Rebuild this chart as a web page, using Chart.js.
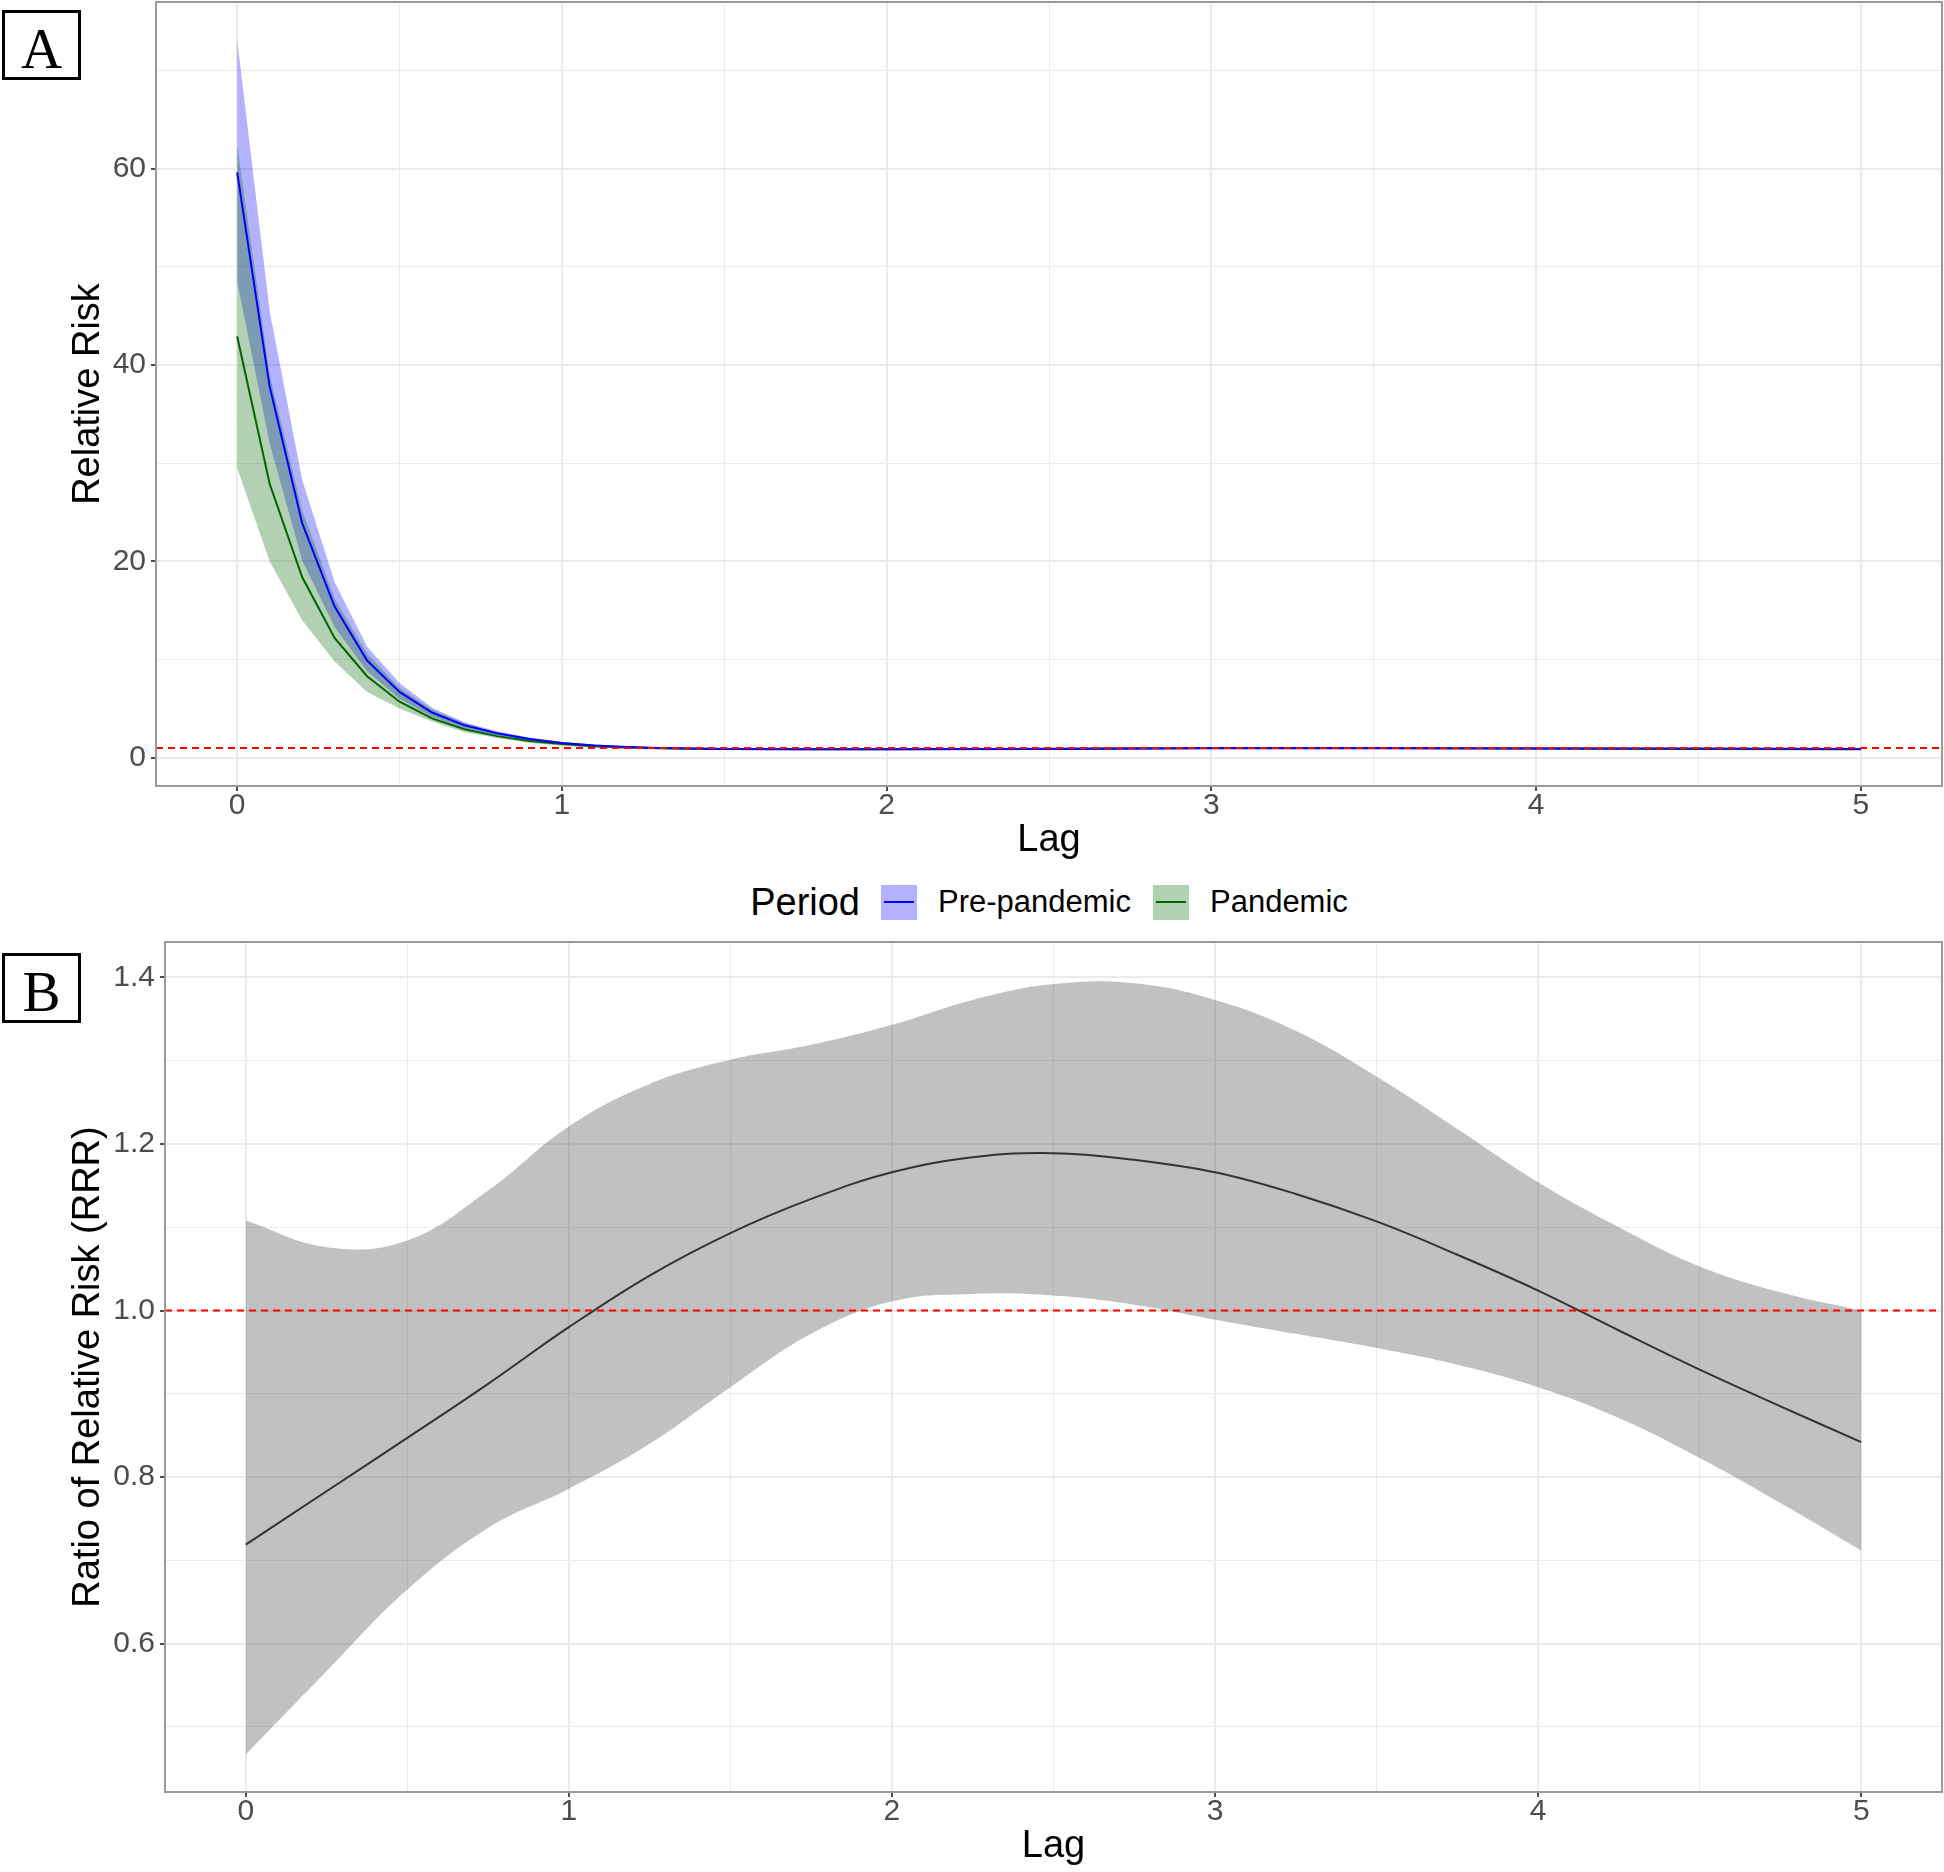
<!DOCTYPE html>
<html>
<head>
<meta charset="utf-8">
<script src="https://cdn.jsdelivr.net/npm/chart.js@4.4.1/dist/chart.umd.min.js"></script>
<style>
html,body{margin:0;padding:0;background:#fff;}
body{position:relative;width:1944px;height:1872px;overflow:hidden;font-family:"Liberation Sans",Arial,sans-serif;}
canvas{position:absolute;left:0;}
#cA{top:0;}
#cB{top:930px;}
.tag{position:absolute;left:2px;width:73px;height:64px;border:3px solid #000;background:#fff;}
.tag span{position:absolute;left:0;right:0;top:7px;text-align:center;font-family:"Liberation Serif","Times New Roman",serif;font-size:57px;line-height:57px;color:#000;}
#legend{position:absolute;left:156px;width:1786px;top:880px;height:44px;display:flex;justify-content:center;align-items:center;color:#000;}
#legend .lt{font-size:38px;margin-right:21px;}
#legend .key{width:36px;height:35px;position:relative;margin-right:21px;}
#legend .key i{position:absolute;left:3px;right:3px;top:16.5px;height:2px;}
#legend .lab{font-size:31px;margin-right:22px;}
#legend .lab:last-child{margin-right:0;}
</style>
</head>
<body>
<canvas id="cA" width="1944" height="870"></canvas>
<canvas id="cB" width="1944" height="942"></canvas>
<div class="tag" style="top:10px;"><span>A</span></div>
<div class="tag" style="top:953px;"><span>B</span></div>
<div id="legend"></div>
<script>
// ---------- Panel A data ----------
const lagA = [0,0.1,0.2,0.3,0.4,0.5,0.6,0.7,0.8,0.9,1.0,1.1,1.2,1.3,1.4,1.5,1.75,2,2.5,3,3.5,4,4.5,5];
const preRR   = [59.6,37.8,23.9,15.4,9.9,6.7,4.6,3.3,2.5,1.9,1.5,1.25,1.1,1.0,0.95,0.9,0.85,0.85,0.9,0.97,0.97,0.95,0.93,0.9];
const preHigh = [73.1,45.5,28.3,17.9,11.3,7.6,5.1,3.6,2.7,2.05,1.6,1.35,1.18,1.07,1.0,0.96,0.92,0.92,0.97,1.03,1.03,1.01,0.99,0.98];
const preLow  = [48.5,32.0,20.1,13.3,8.8,6.0,4.2,3.0,2.3,1.75,1.4,1.17,1.03,0.94,0.89,0.85,0.8,0.79,0.84,0.91,0.92,0.9,0.87,0.83];
const panRR   = [42.9,27.9,18.4,12.2,8.3,5.7,4.0,2.9,2.2,1.7,1.4,1.18,1.05,0.97,0.92,0.9,0.87,0.87,0.92,0.98,0.98,0.95,0.9,0.85];
const panHigh = [62.4,39.0,25.2,16.2,10.6,7.1,4.9,3.5,2.6,2.0,1.6,1.33,1.17,1.07,1.01,0.98,0.94,0.94,0.99,1.05,1.05,1.02,0.98,0.95];
const panLow  = [29.5,20.0,14.0,9.8,6.7,5.0,3.7,2.6,2.0,1.5,1.22,1.05,0.95,0.88,0.84,0.82,0.8,0.8,0.85,0.91,0.91,0.88,0.83,0.76];

// ---------- Panel B data ----------
const lagB = [0,0.25,0.5,0.75,1,1.25,1.5,1.75,2,2.25,2.5,2.75,3,3.25,3.5,3.75,4,4.25,4.5,4.75,5];
const rrrFit  = [0.719,0.783,0.847,0.912,0.980,1.042,1.093,1.134,1.166,1.184,1.189,1.181,1.166,1.140,1.107,1.067,1.024,0.976,0.929,0.885,0.842];
const rrrHigh = [1.108,1.076,1.084,1.144,1.221,1.272,1.301,1.319,1.343,1.373,1.392,1.393,1.373,1.336,1.281,1.218,1.154,1.100,1.053,1.022,1.000];
const rrrLow  = [0.467,0.567,0.665,0.739,0.786,0.840,0.908,0.972,1.011,1.020,1.018,1.007,0.989,0.972,0.955,0.935,0.908,0.871,0.823,0.769,0.712];

// ---------- ticks / labels ----------
const xMajorTicks = [0,1,2,3,4,5];
const xMinorTicks = [0.5,1.5,2.5,3.5,4.5];
const yMajorTicksA = [0,20,40,60];
const yMinorTicksA = [10,30,50,70];
const yMajorTicksB = [0.6,0.8,1.0,1.2,1.4];
const yMinorTicksB = [0.5,0.7,0.9,1.1,1.3];
const xRange = [-0.25,5.25];
const yRangeA = [-2.88,76.96];
const yRangeB = [0.4219,1.4425];
const refValue = 1;
const seriesNames = ['Pre-pandemic','Pandemic'];
const legendTitle = 'Period';

// ---------- styles ----------
const colPre = 'rgb(0,0,255)';
const colPreBand = 'rgba(0,0,255,0.3)';
const colPan = 'rgb(0,100,0)';
const colPanBand = 'rgba(0,100,0,0.3)';
const colFit = '#333333';
const colBand = 'rgba(51,51,51,0.3)';

Chart.defaults.font.family = '"Liberation Sans", Arial, sans-serif';

function pts(xs, ys){ return xs.map((x,i)=>({x:x, y:ys[i]})); }

const refLinePlugin = {
  id:'refLine',
  afterDatasetsDraw(chart){
    const ctx = chart.ctx, y = chart.scales.y.getPixelForValue(refValue);
    const a = chart.chartArea;
    ctx.save();
    ctx.strokeStyle = '#ff0000'; ctx.lineWidth = 2; ctx.setLineDash([7,5]);
    ctx.beginPath(); ctx.moveTo(a.left, y); ctx.lineTo(a.right, y); ctx.stroke();
    ctx.restore();
  }
};
const borderPlugin = {
  id:'panelBorder',
  afterDraw(chart){
    const ctx = chart.ctx, a = chart.chartArea;
    ctx.save();
    ctx.strokeStyle = '#9a9a9a'; ctx.lineWidth = 2;
    ctx.strokeRect(a.left, a.top, a.right-a.left, a.bottom-a.top);
    ctx.restore();
  }
};

function axis(range, majors, minors, fmt, title, fixedSize, isX, titlePad){
  const all = majors.concat(minors).sort((a,b)=>a-b);
  return {
    type:'linear', min:range[0], max:range[1],
    afterBuildTicks: s => { s.ticks = all.map(v=>({value:v})); },
    afterFit: s => {
      if (isX) s.height = fixedSize; else s.width = fixedSize;
      s.paddingTop = 0; s.paddingBottom = 0; s.paddingLeft = 0; s.paddingRight = 0;
    },
    border:{display:false},
    grid:{
      color:'#ebebeb',
      lineWidth: c => majors.includes(c.tick.value) ? 2 : 1,
      tickColor: c => majors.includes(c.tick.value) ? '#4d4d4d' : 'rgba(0,0,0,0)',
      tickWidth: 2, tickLength: 5, drawTicks:true
    },
    ticks:{
      autoSkip:false, maxRotation:0, color:'#4d4d4d',
      font:{size:30, lineHeight:1}, padding: isX ? 0 : 5,
      callback: v => majors.includes(v) ? fmt(v) : ''
    },
    title:{display:true, text:title, color:'#000', font:{size:38, lineHeight:1.2}, padding:titlePad}
  };
}

// ---------- Chart A ----------
new Chart(document.getElementById('cA'), {
  type:'line',
  data:{datasets:[
    {label:seriesNames[0], data:pts(lagA,preRR), borderColor:colPre, borderWidth:2, pointRadius:0, fill:false},
    {label:seriesNames[1], data:pts(lagA,panRR), borderColor:colPan, borderWidth:2, pointRadius:0, fill:false},
    {label:'pan_high', data:pts(lagA,panHigh), borderColor:'rgba(0,0,0,0)', borderWidth:0, pointRadius:0, fill:{target:3}, backgroundColor:colPanBand},
    {label:'pan_low', data:pts(lagA,panLow), borderColor:'rgba(0,0,0,0)', borderWidth:0, pointRadius:0, fill:false},
    {label:'pre_high', data:pts(lagA,preHigh), borderColor:'rgba(0,0,0,0)', borderWidth:0, pointRadius:0, fill:{target:5}, backgroundColor:colPreBand},
    {label:'pre_low', data:pts(lagA,preLow), borderColor:'rgba(0,0,0,0)', borderWidth:0, pointRadius:0, fill:false}
  ]},
  options:{
    responsive:false, devicePixelRatio:1, animation:false,
    layout:{padding:{left:0, top:2, right:2, bottom:0}},
    plugins:{legend:{display:false}, tooltip:{enabled:false}, filler:{drawTime:'beforeDatasetsDraw'}},
    elements:{line:{tension:0}},
    scales:{
      x: axis(xRange, xMajorTicks, xMinorTicks, v=>String(v), 'Lag', 84, true, {top:0, bottom:7}),
      y: axis(yRangeA, yMajorTicksA, yMinorTicksA, v=>String(v), 'Relative Risk', 156, false, {top:66, bottom:0})
    }
  },
  plugins:[refLinePlugin, borderPlugin]
});

// ---------- Chart B ----------
new Chart(document.getElementById('cB'), {
  type:'line',
  data:{datasets:[
    {label:'RRR', data:pts(lagB,rrrFit), borderColor:colFit, borderWidth:2, pointRadius:0, fill:false},
    {label:'RRR_high', data:pts(lagB,rrrHigh), borderColor:'rgba(0,0,0,0)', borderWidth:0, pointRadius:0, fill:{target:2}, backgroundColor:colBand},
    {label:'RRR_low', data:pts(lagB,rrrLow), borderColor:'rgba(0,0,0,0)', borderWidth:0, pointRadius:0, fill:false}
  ]},
  options:{
    responsive:false, devicePixelRatio:1, animation:false,
    layout:{padding:{left:0, top:12, right:2, bottom:0}},
    plugins:{legend:{display:false}, tooltip:{enabled:false}, filler:{drawTime:'beforeDatasetsDraw'}},
    elements:{line:{tension:0.4}},
    scales:{
      x: axis(xRange, xMajorTicks, xMinorTicks, v=>String(v), 'Lag', 80, true, {top:0, bottom:2.5}),
      y: axis(yRangeB, yMajorTicksB, yMinorTicksB, v=>v.toFixed(1), 'Ratio of Relative Risk (RRR)', 165, false, {top:66, bottom:0})
    }
  },
  plugins:[refLinePlugin, borderPlugin]
});

// ---------- Legend (HTML) ----------
(function(){
  const lg = document.getElementById('legend');
  const t = document.createElement('span'); t.className='lt'; t.textContent=legendTitle; lg.appendChild(t);
  [[colPre,colPreBand,seriesNames[0]],[colPan,colPanBand,seriesNames[1]]].forEach(([lc,bc,name])=>{
    const k = document.createElement('span'); k.className='key'; k.style.background=bc;
    const i = document.createElement('i'); i.style.background=lc; k.appendChild(i); lg.appendChild(k);
    const l = document.createElement('span'); l.className='lab'; l.textContent=name; lg.appendChild(l);
  });
})();
</script>
</body>
</html>
